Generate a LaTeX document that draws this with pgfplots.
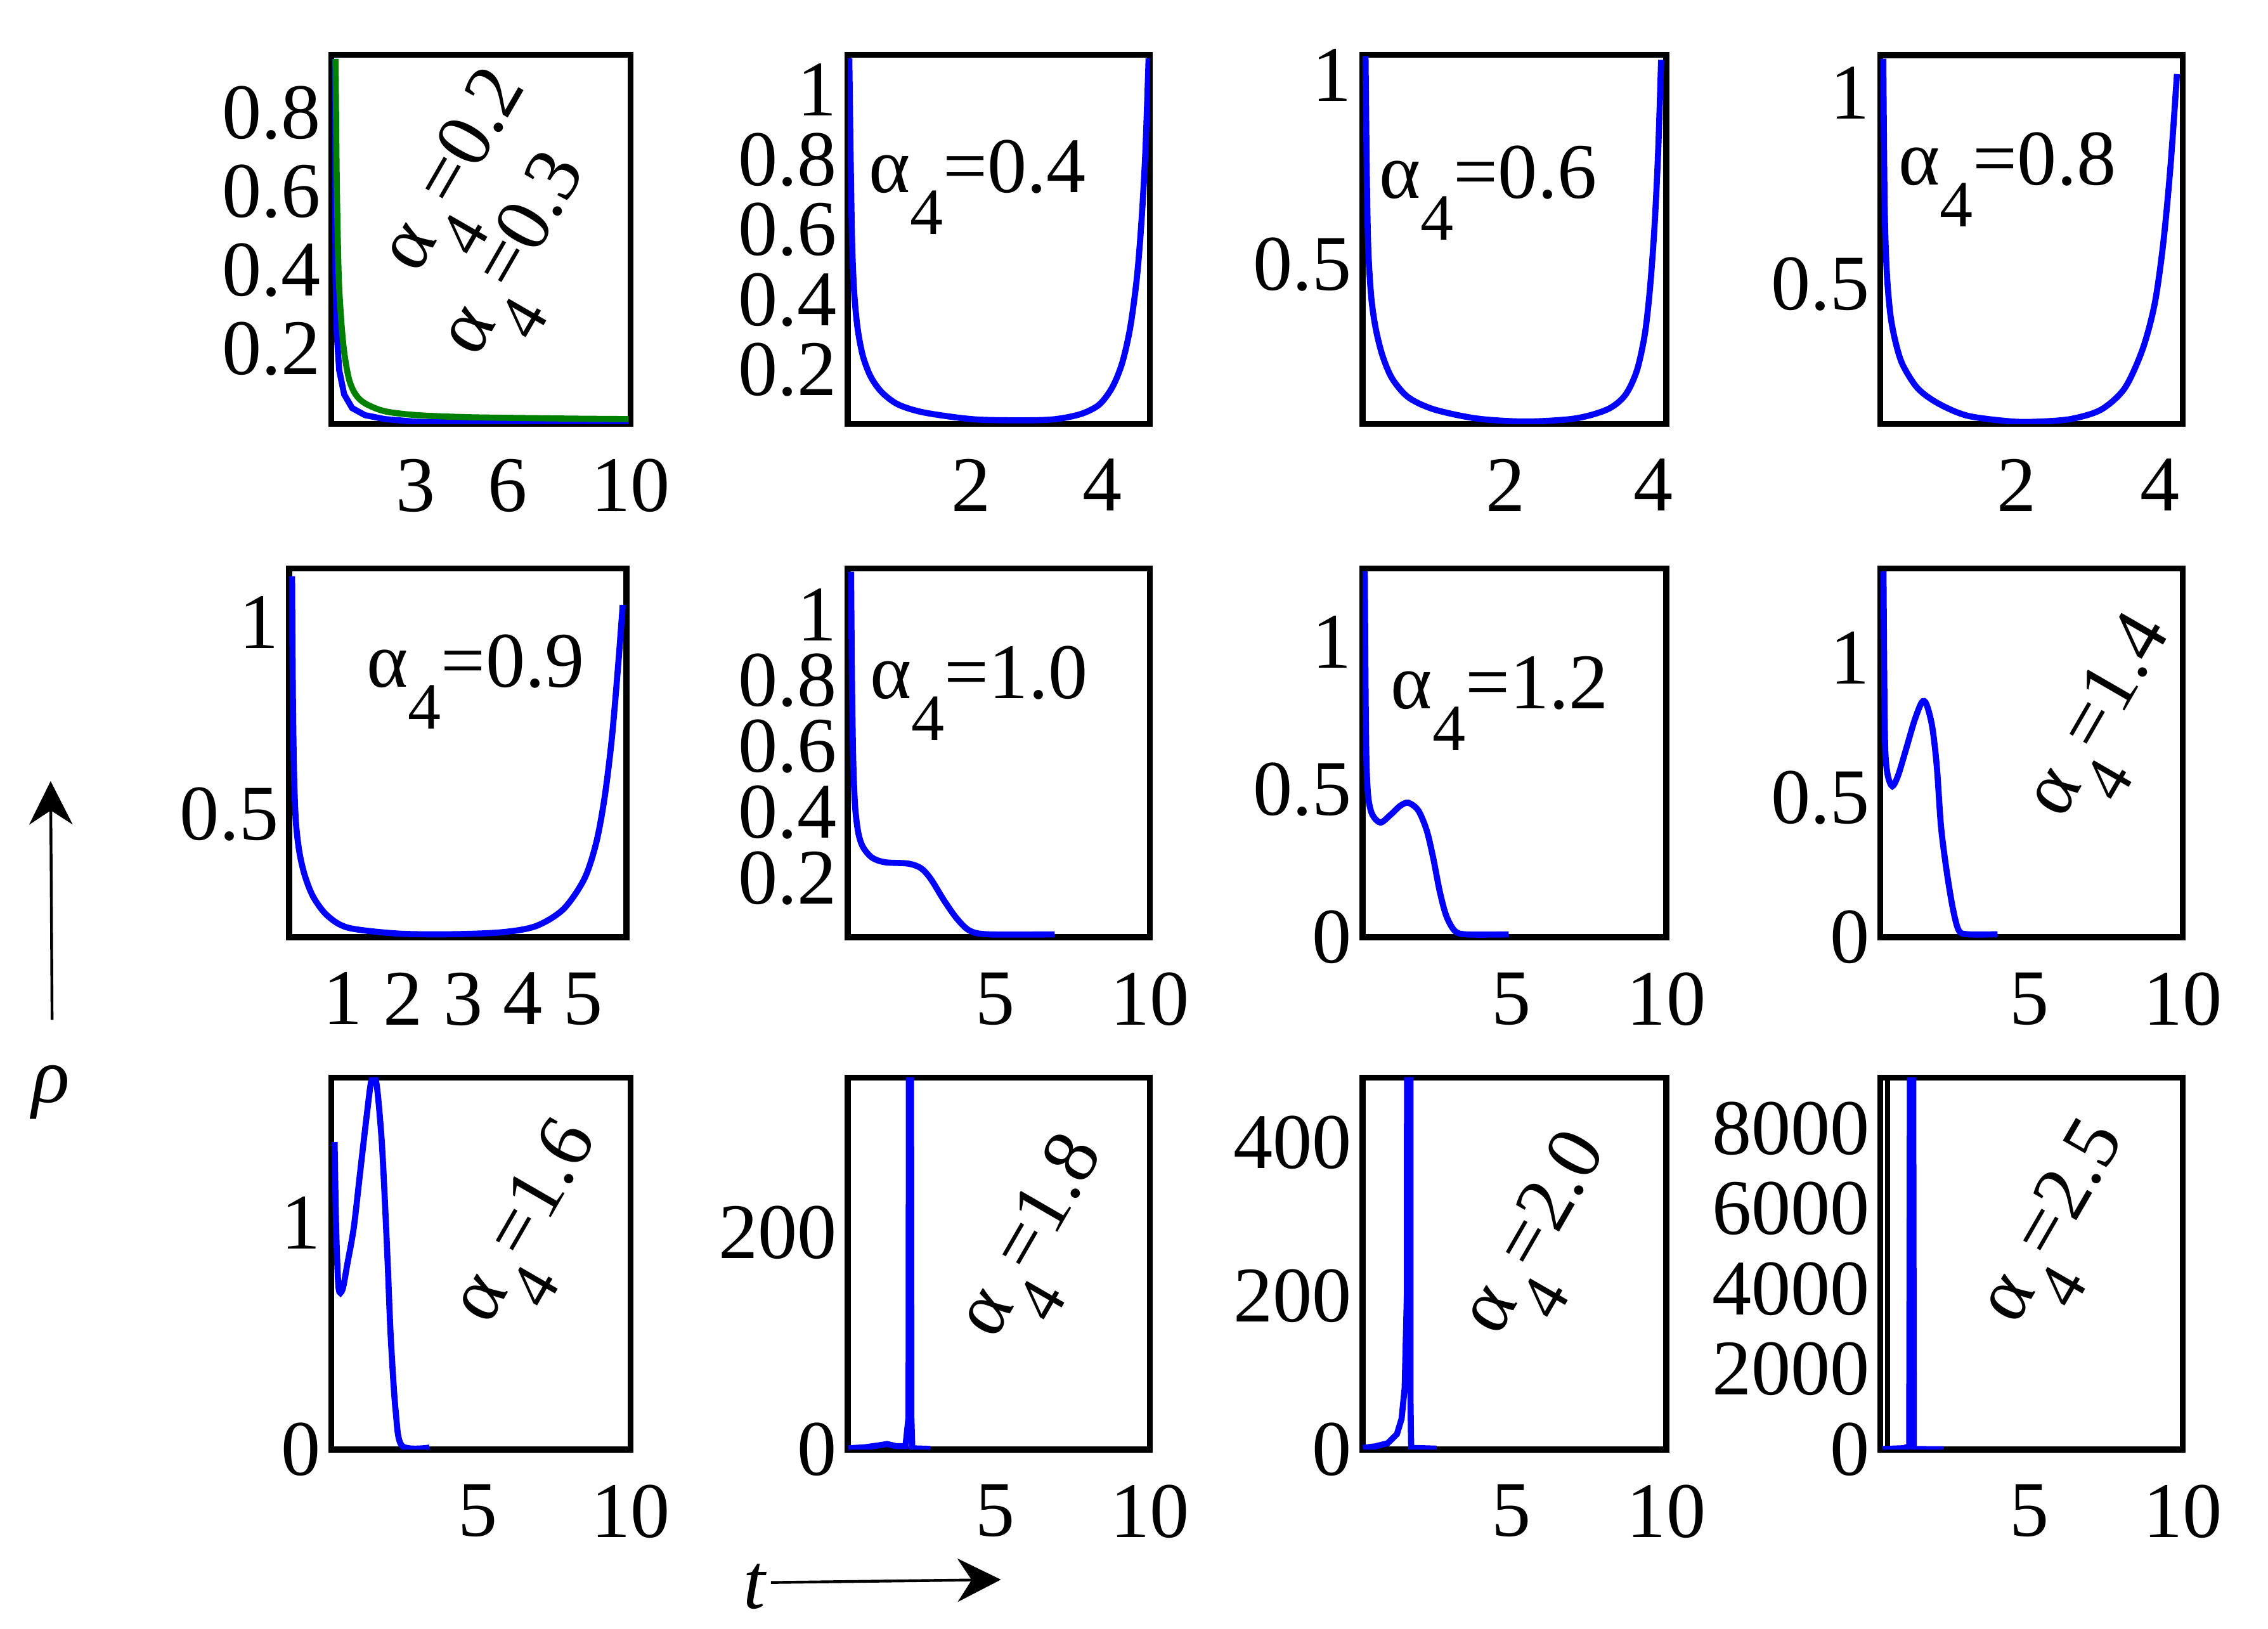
\documentclass[border=0pt]{standalone}
\usepackage{fontspec}
\setmainfont{Liberation Serif}
\usepackage{pgfplots}
\pgfplotsset{compat=1.18}
\usetikzlibrary{arrows.meta}

% alpha_4 = value, with the low Mathematica-style subscript
\newcommand{\al}[1]{α\raisebox{-0.53em}{\fontsize{13}{14}\selectfont 4}=#1}

\pgfplotsset{
  panel/.style={
    scale only axis, anchor=south west,
    axis line style={line width=1.2pt},
    major tick length=0pt,
    ticklabel style={font=\fontsize{15.5}{17}\selectfont},
    xticklabel style={yshift=-0.12cm},
    yticklabel style={xshift=0.05cm},
  },
  rho/.style={draw=blue, line width=1.2pt, no markers},
}

\begin{document}
\begin{tikzpicture}[x=1cm,y=1cm]
\path (0,0) rectangle (15.68,11.26);
\tikzset{lab/.style={font=\fontsize{15.5}{17}\selectfont, inner sep=0pt}}

% ---------- row 1 ----------
\begin{axis}[panel, at={(2.29cm,8.33cm)}, width=2.07cm, height=2.55cm,
  xmin=0.25, xmax=10, ymin=0.01, ymax=0.947,
  xtick={3,6,10}, xticklabels={3,6,10},
  ytick={0.2,0.4,0.6,0.8}, yticklabels={0.2,0.4,0.6,0.8}]
\addplot[rho] coordinates {(0.37,0.937)(0.39,0.393)(0.43,0.239)(0.51,0.146)(0.67,0.085)(0.93,0.05)(1.35,0.032)(1.99,0.022)(3.04,0.015)(5.14,0.013)(9.93,0.012)};
\addplot[draw={rgb,255:red,0;green,128;blue,0}, line width=1.2pt, no markers, smooth] coordinates {(0.39,0.937)(0.43,0.625)(0.49,0.393)(0.57,0.278)(0.67,0.193)(0.83,0.123)(1.04,0.085)(1.35,0.062)(1.99,0.042)(3.04,0.032)(4.61,0.027)(6.19,0.025)(8.29,0.023)(9.93,0.022)};
\end{axis}

\begin{axis}[panel, at={(5.86cm,8.33cm)}, width=2.09cm, height=2.55cm,
  xmin=0.13, xmax=4.72, ymin=0.045, ymax=1.10,
  xtick={2,4}, xticklabels={2,4},
  ytick={0.2,0.4,0.6,0.8,1}, yticklabels={0.2,0.4,0.6,0.8,1}]
\addplot[rho, smooth] coordinates {(0.155,1.09)(0.18,0.75)(0.20,0.55)(0.23,0.42)(0.28,0.32)(0.36,0.24)(0.48,0.18)(0.65,0.135)(0.90,0.10)(1.30,0.077)(2.04,0.058)(2.78,0.055)(3.27,0.058)(3.67,0.073)(3.95,0.10)(4.15,0.15)(4.30,0.22)(4.42,0.32)(4.52,0.46)(4.59,0.62)(4.65,0.82)(4.70,1.09)};
\end{axis}

\begin{axis}[panel, at={(9.42cm,8.33cm)}, width=2.10cm, height=2.55cm,
  xmin=0.06, xmax=4.18, ymin=0.08, ymax=1.053,
  xtick={2,4}, xticklabels={2,4},
  ytick={0.5,1}, yticklabels={0.5,1}]
\addplot[rho, smooth] coordinates {(0.10,1.05)(0.12,0.70)(0.14,0.53)(0.18,0.41)(0.24,0.33)(0.33,0.26)(0.46,0.20)(0.68,0.15)(1.03,0.118)(1.61,0.094)(2.27,0.086)(2.94,0.094)(3.38,0.118)(3.62,0.155)(3.78,0.22)(3.89,0.318)(3.96,0.44)(4.02,0.60)(4.07,0.80)(4.11,1.04)};
\end{axis}

\begin{axis}[panel, at={(13.00cm,8.33cm)}, width=2.09cm, height=2.55cm,
  xmin=0.10, xmax=4.32, ymin=0.135, ymax=1.10,
  xtick={2,4}, xticklabels={2,4},
  ytick={0.5,1}, yticklabels={0.5,1}]
\addplot[rho, smooth] coordinates {(0.14,1.09)(0.16,0.70)(0.19,0.53)(0.24,0.42)(0.31,0.35)(0.41,0.29)(0.62,0.228)(0.91,0.188)(1.32,0.156)(1.94,0.141)(2.35,0.141)(2.77,0.148)(3.18,0.172)(3.51,0.228)(3.76,0.33)(3.93,0.45)(4.05,0.61)(4.15,0.81)(4.24,1.05)};
\end{axis}

% ---------- row 2 ----------
\begin{axis}[panel, at={(2.00cm,4.78cm)}, width=2.33cm, height=2.55cm,
  xmin=0.11, xmax=5.72, ymin=0.18, ymax=1.14,
  xtick={1,2,3,4,5}, xticklabels={1,2,3,4,5},
  ytick={0.5,1}, yticklabels={0.5,1}]
\addplot[rho, smooth] coordinates {(0.156,1.12)(0.17,0.80)(0.19,0.60)(0.22,0.48)(0.28,0.40)(0.37,0.34)(0.51,0.285)(0.74,0.237)(1.09,0.205)(1.90,0.19)(2.76,0.188)(3.63,0.193)(4.21,0.209)(4.67,0.253)(5.02,0.332)(5.22,0.427)(5.36,0.546)(5.48,0.70)(5.59,0.90)(5.66,1.045)};
\end{axis}

\begin{axis}[panel, at={(5.86cm,4.78cm)}, width=2.09cm, height=2.55cm,
  xmin=0.23, xmax=10, ymin=0.02, ymax=1.14,
  xtick={5,10}, xticklabels={5,10},
  ytick={0.2,0.4,0.6,0.8,1}, yticklabels={0.2,0.4,0.6,0.8,1}]
\addplot[rho, smooth] coordinates {(0.34,1.13)(0.37,0.80)(0.41,0.56)(0.47,0.42)(0.57,0.34)(0.72,0.295)(1.02,0.262)(1.44,0.248)(2.18,0.244)(2.60,0.23)(2.92,0.197)(3.34,0.133)(3.76,0.077)(4.18,0.04)(4.81,0.029)(6.92,0.029)};
\end{axis}

\begin{axis}[panel, at={(9.42cm,4.78cm)}, width=2.10cm, height=2.55cm,
  xmin=0.19, xmax=10, ymin=0, ymax=1.25,
  xtick={5,10}, xticklabels={5,10},
  ytick={0,0.5,1}, yticklabels={0,0.5,1}]
\addplot[rho, smooth] coordinates {(0.26,1.24)(0.29,0.80)(0.32,0.58)(0.38,0.47)(0.51,0.415)(0.77,0.389)(1.09,0.415)(1.41,0.446)(1.67,0.456)(1.99,0.43)(2.26,0.363)(2.47,0.27)(2.68,0.157)(2.89,0.074)(3.16,0.023)(3.53,0.01)(4.91,0.01)};
\end{axis}

\begin{axis}[panel, at={(13.00cm,4.78cm)}, width=2.09cm, height=2.55cm,
  xmin=0.14, xmax=10, ymin=0, ymax=1.32,
  xtick={5,10}, xticklabels={5,10},
  ytick={0,0.5,1}, yticklabels={0,0.5,1}]
\addplot[rho, smooth] coordinates {(0.24,1.31)(0.27,0.884)(0.30,0.667)(0.38,0.58)(0.53,0.541)(0.72,0.58)(0.96,0.667)(1.25,0.775)(1.49,0.841)(1.64,0.835)(1.83,0.754)(1.98,0.612)(2.12,0.394)(2.31,0.231)(2.51,0.10)(2.70,0.024)(2.99,0.011)(3.96,0.011)};
\end{axis}

% ---------- row 3 ----------
\begin{axis}[panel, at={(2.29cm,1.24cm)}, width=2.07cm, height=2.57cm,
  xmin=0.19, xmax=10, ymin=0, ymax=1.64,
  xtick={5,10}, xticklabels={5,10},
  ytick={0,1}, yticklabels={0,1}]
\addplot[rho, smooth] coordinates {(0.30,1.356)(0.35,0.98)(0.43,0.714)(0.56,0.706)(0.72,0.82)(0.93,0.98)(1.14,1.226)(1.35,1.47)(1.51,1.63)(1.67,1.616)(1.83,1.388)(1.93,1.145)(2.04,0.82)(2.14,0.495)(2.30,0.17)(2.51,0.016)(3.41,0.008)};
\end{axis}

\begin{axis}[panel, at={(5.86cm,1.24cm)}, width=2.09cm, height=2.57cm,
  xmin=0.23, xmax=10, ymin=0, ymax=343,
  xtick={5,10}, xticklabels={5,10},
  ytick={0,200}, yticklabels={0,200}]
\addplot[rho] coordinates {(0.25,1)(0.8,2)(1.3,4)(1.5,5)(1.8,3)(2.1,3)(2.2,30)(2.22,600)(2.27,600)(2.29,30)(2.32,1)(2.9,0.5)};
\end{axis}

\begin{axis}[panel, at={(9.42cm,1.24cm)}, width=2.10cm, height=2.57cm,
  xmin=0.19, xmax=10, ymin=0, ymax=485,
  xtick={5,10}, xticklabels={5,10},
  ytick={0,200,400}, yticklabels={0,200,400}]
\addplot[rho] coordinates {(0.2,2)(0.6,4)(1.0,8)(1.3,20)(1.45,40)(1.55,80)(1.62,200)(1.66,2000)(1.72,2000)(1.74,60)(1.76,2)(2.58,1)};
\end{axis}

\begin{axis}[panel, at={(13.00cm,1.24cm)}, width=2.09cm, height=2.57cm,
  xmin=0.14, xmax=10, ymin=0, ymax=9260,
  xtick={5,10}, xticklabels={5,10},
  ytick={0,2000,4000,6000,8000}, yticklabels={0,2000,4000,6000,8000}]
\addplot[black, line width=1pt, no markers] coordinates {(0.38,0)(0.38,9260)};
\addplot[rho] coordinates {(0.2,10)(0.9,30)(1.08,80)(1.13,20000)(1.19,20000)(1.23,10)(2.2,5)};
\end{axis}

% ---------- panel labels ----------
\node[lab, rotate=60] at (3.23,10.03) {\al{0.2}};
\node[lab, rotate=60] at (3.64,9.45) {\al{0.3}};
\node[lab, anchor=base west] at (6.00,9.93) {\al{0.4}};
\node[lab, anchor=base west] at (9.53,9.89) {\al{0.6}};
\node[lab, anchor=base west] at (13.12,9.98) {\al{0.8}};
\node[lab, anchor=base west] at (2.53,6.51) {\al{0.9}};
\node[lab, anchor=base west] at (6.01,6.43) {\al{1.0}};
\node[lab, anchor=base west] at (9.61,6.36) {\al{1.2}};
\node[lab, rotate=60] at (14.60,6.26) {\al{1.4}};
\node[lab, rotate=60] at (3.72,2.76) {\al{1.6}};
\node[lab, rotate=60] at (7.22,2.66) {\al{1.8}};
\node[lab, rotate=60] at (10.70,2.68) {\al{2.0}};
\node[lab, rotate=60] at (14.28,2.76) {\al{2.5}};

% ---------- axis arrows ----------
\draw[line width=0.55pt, -{Stealth[length=0.3cm, width=0.3cm]}] (0.36,4.21) -- (0.35,5.86);
\node[lab] at (0.35,3.71) {\textit{ρ}};
\node[lab] at (5.22,0.29) {\textit{t}};
\draw[line width=0.55pt, -{Stealth[length=0.3cm, width=0.3cm]}] (5.33,0.32) -- (6.92,0.34);
\end{tikzpicture}
\end{document}
